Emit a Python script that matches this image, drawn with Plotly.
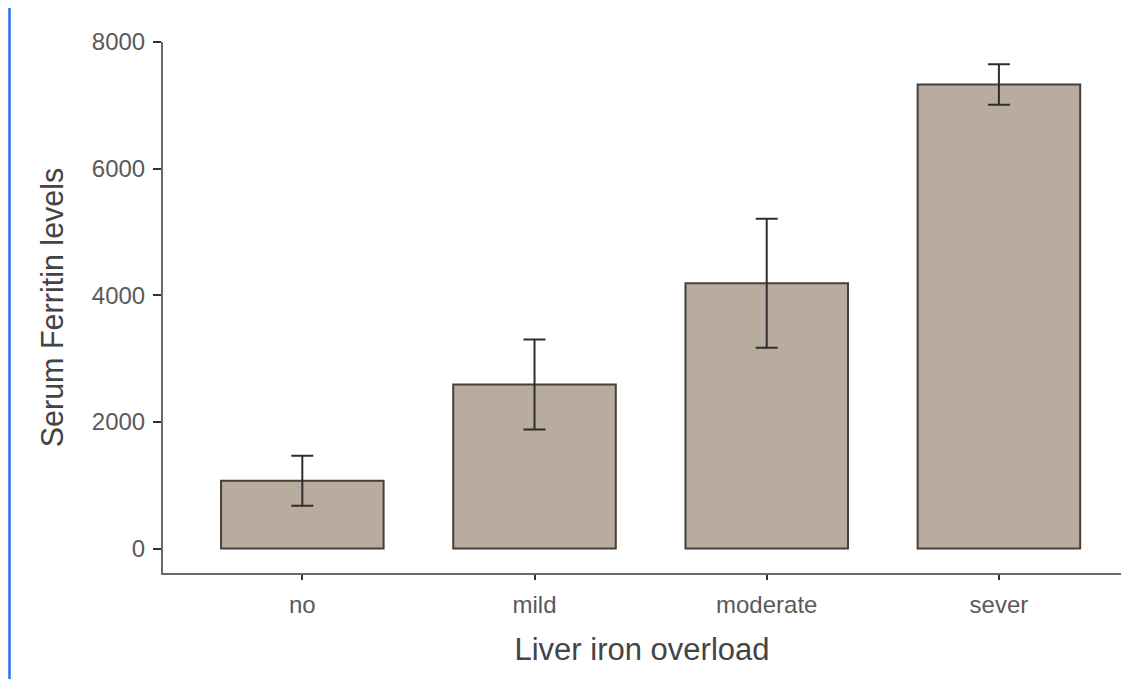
import plotly.graph_objects as go

categories = ["no", "mild", "moderate", "sever"]
means = [1070, 2590, 4190, 7330]
errors = [395, 710, 1020, 320]
tick_vals = [0, 2000, 4000, 6000, 8000]

# page body has an 8px default margin; layout accounts for it (no scrollbars)
L, T, PW, PH, B = 155, 34, 958, 531, 106
UNIT_PX = 232.2  # pixels per category step

fig = go.Figure()
fig.add_trace(go.Bar(
    x=categories, y=means, width=0.70,
    marker=dict(color="#b9ab9d", line=dict(color="#45403b", width=2)),
    error_y=dict(type="data", array=errors, visible=True, color="#2e2e2e", thickness=2, width=11),
))

fig.update_layout(
    width=L + PW, height=T + PH + B,
    margin=dict(l=L, r=0, t=T, b=B),
    plot_bgcolor="white", paper_bgcolor="white",
    showlegend=False,
    font=dict(family="Liberation Sans, Arial, sans-serif", color="#555555"),
    xaxis=dict(
        range=[-0.6, -0.6 + PW / UNIT_PX], showline=True, linecolor="#6a6a6a", linewidth=2,
        ticks="outside", ticklen=5, tickcolor="#333333", tickwidth=2,
        tickfont=dict(size=24, color="#5a5a5a"), ticklabelstandoff=4,
        showgrid=False, zeroline=False,
        title=dict(text="Liver iron overload", font=dict(size=31, color="#444444"), standoff=22),
    ),
    yaxis=dict(
        range=[-387, 8000], showline=True, linecolor="#6a6a6a", linewidth=2,
        tickvals=tick_vals, ticks="outside", ticklen=8, tickcolor="#333333", tickwidth=2,
        tickfont=dict(size=24, color="#5a5a5a"), ticklabelstandoff=3,
        showgrid=False, zeroline=False,
        title=dict(text="Serum Ferritin levels", font=dict(size=30.5, color="#444444"), standoff=19),
    ),
    shapes=[dict(type="line", xref="paper", yref="paper",
                 x0=-(L - 1.5) / PW, x1=-(L - 1.5) / PW, y0=-(B + 10) / PH, y1=1 + (T + 10) / PH,
                 line=dict(color="#2a6ff0", width=2.5))],
)

fig.write_html("out.html")
